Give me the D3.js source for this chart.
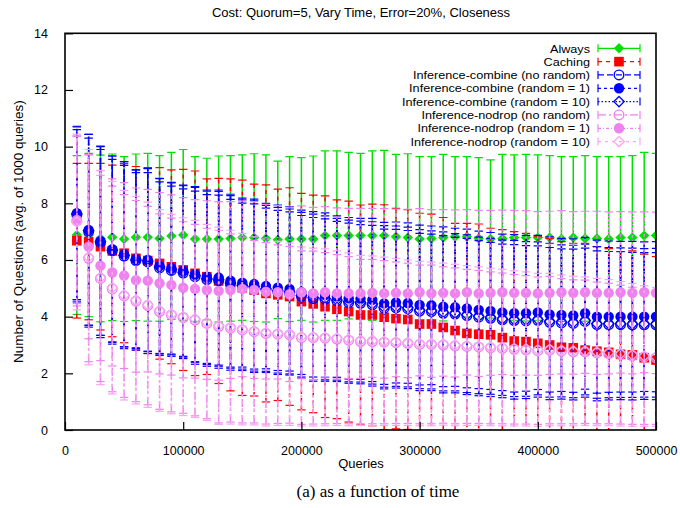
<!DOCTYPE html>
<html><head><meta charset="utf-8">
<script src="https://cdn.jsdelivr.net/npm/d3@7"></script>
<style>body{margin:0;background:#fff}svg{display:block}text{font-family:"Liberation Sans",Arial,sans-serif}</style>
</head><body><svg id="c" width="680" height="508"></svg>
<script>
const queries = [10000,20000,30000,40000,50000,60000,70000,80000,90000,100000,110000,120000,130000,140000,150000,160000,170000,180000,190000,200000,210000,220000,230000,240000,250000,260000,270000,280000,290000,300000,310000,320000,330000,340000,350000,360000,370000,380000,390000,400000,410000,420000,430000,440000,450000,460000,470000,480000,490000,500000];
const xTicks = [0,100000,200000,300000,400000,500000];
const yTicks = [0,2,4,6,8,10,12,14];
const seriesNames = ["Always","Caching","Inference-combine (no random)","Inference-combine (random = 1)","Inference-combine (random = 10)","Inference-nodrop (no random)","Inference-nodrop (random = 1)","Inference-nodrop (random = 10)"];

const alwaysMean = [6.88,6.88,6.76,6.80,6.74,6.80,6.80,6.76,6.85,6.88,6.74,6.74, 6.74,6.76,6.79,6.79,6.76,6.71,6.74,6.74,6.74,6.86,6.86,6.86,6.86, 6.86,6.86,6.82,6.79,6.74,6.76,6.79,6.82,6.82,6.76,6.74,6.76,6.79, 6.79,6.79,6.79,6.74,6.79,6.76,6.76,6.74,6.79,6.79,6.86,6.86];
const alwaysErr = [2.80,2.88,2.94,2.94,2.91,2.94,2.96,2.92,2.95,3.02,2.91,2.85, 2.93,2.92,2.92,2.96,2.95,2.78,2.91,2.87,2.93,2.99,2.99,2.94,2.90, 2.99,3.01,2.91,2.96,2.91,2.89,2.94,2.83,2.83,2.85,2.79,2.97,2.92, 2.94,2.92,2.89,2.91,2.86,2.92,2.89,2.91,2.86,2.89,2.94,2.90];

const cachingMean = [6.68,6.65,6.47,6.32,6.24,6.06,5.98,5.88,5.76,5.65,5.53,5.41, 5.26,5.12,5.02,4.94,4.82,4.77,4.71,4.53,4.45,4.35,4.26,4.18,4.06, 4.06,3.98,3.93,3.90,3.74,3.74,3.62,3.51,3.41,3.38,3.36,3.26,3.14, 3.12,3.06,3.00,2.92,2.90,2.82,2.78,2.74,2.67,2.65,2.55,2.47];
const cachingErr = [2.73,2.76,2.94,3.03,3.16,3.24,3.28,3.38,3.42,3.55,3.61,3.45, 3.62,3.74,3.80,3.74,3.83,3.73,3.84,3.82,3.84,3.91,3.86,3.90,3.88, 3.91,3.97,3.89,3.88,3.91,3.88,3.88,3.78,3.88,3.89,3.76,3.81,3.86, 3.82,3.76,3.76,3.73,3.69,3.77,3.69,3.66,3.63,3.67,3.66,3.65];

const combNoRandMean = [7.60,7.00,6.62,6.33,6.14,5.98,5.93,5.72,5.63,5.54,5.41,5.31, 5.27,5.16,5.08,5.03,4.95,4.88,4.84,4.72,4.64,4.61,4.56,4.50,4.47, 4.42,4.30,4.31,4.28,4.20,4.18,4.12,4.09,4.04,3.98,3.94,3.89,3.86, 3.85,3.87,3.80,3.78,3.76,3.83,3.72,3.72,3.72,3.71,3.71,3.71];
const combNoRandErr = [3.00,3.30,3.28,3.22,3.20,3.10,3.15,3.04,2.98,2.97,3.02,3.00, 3.02,2.98,2.93,2.95,2.88,2.87,2.86,2.85,2.86,2.84,2.80,2.80,2.78, 2.80,2.79,2.77,2.76,2.74,2.73,2.74,2.71,2.72,2.70,2.68,2.67,2.68, 2.66,2.63,2.64,2.61,2.62,2.59,2.60,2.58,2.57,2.56,2.55,2.55];

const combRand1Mean = [7.65,7.06,6.67,6.38,6.20,6.04,6.00,5.79,5.71,5.62,5.50,5.41, 5.38,5.27,5.20,5.15,5.08,5.02,4.98,4.86,4.79,4.76,4.71,4.65,4.63, 4.59,4.47,4.50,4.48,4.41,4.40,4.35,4.33,4.29,4.24,4.20,4.15,4.12, 4.12,4.15,4.08,4.06,4.04,4.12,4.00,4.00,4.00,4.00,4.00,4.00];
const combRand1Err = [3.05,3.37,3.33,3.29,3.27,3.14,3.23,3.09,3.03,3.02,3.09,3.06, 3.09,3.05,2.98,3.00,2.92,2.92,2.90,2.90,2.92,2.90,2.85,2.85,2.84, 2.88,2.86,2.84,2.83,2.82,2.80,2.82,2.79,2.80,2.78,2.77,2.76,2.78, 2.75,2.72,2.74,2.70,2.71,2.68,2.70,2.67,2.66,2.66,2.64,2.65];

const combRand10Mean = [7.62,7.03,6.64,6.35,6.17,6.00,5.96,5.75,5.66,5.57,5.44,5.34, 5.30,5.19,5.11,5.06,4.98,4.91,4.87,4.75,4.67,4.64,4.59,4.53,4.50, 4.45,4.33,4.34,4.31,4.23,4.21,4.15,4.12,4.07,4.01,3.97,3.92,3.89, 3.88,3.90,3.83,3.81,3.79,3.86,3.75,3.75,3.75,3.74,3.74,3.74];
const combRand10Err = [3.10,3.40,3.38,3.32,3.30,3.18,3.26,3.12,3.06,3.05,3.12,3.09, 3.12,3.08,3.01,3.03,2.95,2.95,2.93,2.93,2.95,2.92,2.88,2.88,2.87, 2.90,2.88,2.86,2.85,2.84,2.82,2.84,2.81,2.82,2.80,2.79,2.78,2.80, 2.77,2.74,2.76,2.72,2.73,2.70,2.72,2.69,2.68,2.68,2.66,2.67];

const nodNoRandMean = [7.38,6.06,5.35,4.98,4.73,4.55,4.39,4.18,4.06,3.97,3.88,3.76, 3.65,3.60,3.53,3.47,3.41,3.38,3.36,3.26,3.26,3.24,3.21,3.17,3.12, 3.12,3.10,3.08,3.06,3.02,3.02,3.00,2.97,2.95,2.93,2.90,2.88,2.85, 2.83,2.80,2.82,2.78,2.76,2.76,2.72,2.70,2.66,2.62,2.58,2.55];
const nodNoRandErr = [3.00,3.65,3.64,3.63,3.58,3.55,3.50,3.45,3.42,3.38,3.38,3.36, 3.40,3.32,3.28,3.22,3.20,3.15,3.12,3.06,3.05,3.02,2.98,2.95,2.90, 2.90,2.88,2.85,2.83,2.80,2.80,2.76,2.75,2.72,2.70,2.68,2.66,2.64, 2.62,2.60,2.60,2.56,2.54,2.53,2.50,2.48,2.45,2.42,2.38,2.35];

const nodRand1Mean = [7.41,6.47,5.80,5.56,5.45,5.29,5.27,5.18,5.12,5.02,4.98,4.94, 4.91,4.94,4.98,4.94,4.88,4.86,4.79,4.86,4.82,4.86,4.82,4.82,4.82, 4.84,4.82,4.84,4.82,4.86,4.82,4.84,4.82,4.86,4.82,4.84,4.86,4.84, 4.84,4.82,4.84,4.86,4.84,4.86,4.84,4.84,4.86,4.84,4.86,4.84];
const nodRand1Err = [2.95,3.25,3.35,3.30,3.28,3.25,3.22,3.20,3.18,3.18,3.15,3.15, 3.15,3.12,3.10,3.12,3.08,3.06,3.08,3.05,3.04,3.02,3.02,3.00,3.00, 2.98,2.99,2.96,2.97,2.95,2.96,2.94,2.95,2.92,2.93,2.91,2.90,2.91, 2.90,2.89,2.88,2.88,2.87,2.86,2.88,2.86,2.85,2.86,2.84,2.85];

const nodRand10Mean = [7.34,6.10,5.38,5.02,4.76,4.58,4.42,4.22,4.09,4.00,3.92,3.80, 3.68,3.63,3.56,3.50,3.44,3.41,3.38,3.30,3.28,3.27,3.24,3.20,3.16, 3.15,3.13,3.11,3.08,3.05,3.04,3.03,3.00,2.98,2.96,2.93,2.91,2.88, 2.86,2.83,2.84,2.81,2.79,2.78,2.75,2.73,2.69,2.65,2.61,2.58];
const nodRand10Err = [3.10,3.80,3.78,3.75,3.70,3.66,3.62,3.56,3.52,3.49,3.48,3.46, 3.48,3.42,3.38,3.32,3.30,3.25,3.22,3.16,3.14,3.12,3.08,3.05,3.00, 2.99,2.97,2.95,2.92,2.90,2.89,2.86,2.85,2.82,2.80,2.78,2.76,2.74, 2.72,2.70,2.69,2.66,2.64,2.62,2.60,2.58,2.55,2.52,2.48,2.45];

const means = [alwaysMean,cachingMean,combNoRandMean,combRand1Mean,combRand10Mean,nodNoRandMean,nodRand1Mean,nodRand10Mean];
const errs = [alwaysErr,cachingErr,combNoRandErr,combRand1Err,combRand10Err,nodNoRandErr,nodRand1Err,nodRand10Err];

const styles = [
  {color:"#00e000", dash:null, shape:"diamond", fill:true},
  {color:"#ff0000", dash:"4,4", shape:"square", fill:true},
  {color:"#0000ff", dash:"6,3", shape:"circle", fill:false},
  {color:"#0000ff", dash:"3,3", shape:"circle", fill:true},
  {color:"#0000ff", dash:"1.5,2", shape:"diamond", fill:false},
  {color:"#ee82ee", dash:"8,3,2,3", shape:"circle", fill:false},
  {color:"#ee82ee", dash:"3,2,1,2", shape:"circle", fill:true},
  {color:"#f7a6f0", dash:"3,4", shape:"diamond", fill:false}
];

const FONT = "'Liberation Sans',Arial,sans-serif";
const svg = d3.select("#c");
svg.append("rect").attr("width",680).attr("height",508).attr("fill","#fff");
const L=65, R=656, T=33.3, B=430;
const x = d3.scaleLinear().domain([0,500000]).range([L,R]);
const y = d3.scaleLinear().domain([0,14]).range([B,T]);

svg.append("defs").append("clipPath").attr("id","clip").append("rect")
  .attr("x",L).attr("y",T).attr("width",R-L).attr("height",B-T);

function drawMarker(g, s, cx, cy){
  if(s.shape==="circle"){
    const r = s.fill?5.2:4.8;
    g.append("circle").attr("cx",cx).attr("cy",cy).attr("r",r)
      .attr("fill",s.fill?s.color:"none").attr("stroke",s.color).attr("stroke-width",s.fill?0:1.4);
  } else if(s.shape==="square"){
    g.append("rect").attr("x",cx-4.8).attr("y",cy-4.8).attr("width",9.6).attr("height",9.6).attr("fill",s.color);
  } else {
    const h = 5.2;
    g.append("path").attr("d",`M${cx},${cy-h}L${cx+h},${cy}L${cx},${cy+h}L${cx-h},${cy}Z`)
      .attr("fill",s.fill?s.color:"none").attr("stroke",s.color).attr("stroke-width",s.fill?0:1.3);
  }
}

const plot = svg.append("g").attr("clip-path","url(#clip)");
means.forEach((m,si)=>{
  const s = styles[si], e = errs[si];
  const g = plot.append("g");
  queries.forEach((q,i)=>{
    const cx = x(q), lo = y(m[i]-e[i]), hi = y(m[i]+e[i]);
    g.append("line").attr("x1",cx).attr("x2",cx).attr("y1",lo).attr("y2",hi)
      .attr("stroke",s.color).attr("stroke-width",1.5).attr("stroke-dasharray",s.dash);
    [lo,hi].forEach(yy=>g.append("line").attr("x1",cx-4.2).attr("x2",cx+4.2).attr("y1",yy).attr("y2",yy)
      .attr("stroke",s.color).attr("stroke-width",1.2));
  });
  queries.forEach((q,i)=>drawMarker(g,s,x(q),y(m[i])));
});

// axes
const ya = svg.append("g").attr("transform",`translate(${L},0)`)
  .call(d3.axisLeft(y).tickValues(yTicks).tickSize(-8).tickPadding(17).tickFormat(d3.format("d")));
const xa = svg.append("g").attr("transform",`translate(0,${B})`)
  .call(d3.axisBottom(x).tickValues(xTicks).tickSize(-8).tickPadding(16).tickFormat(d3.format("d")));
[ya,xa].forEach(a=>{a.select(".domain").remove();a.selectAll("line").attr("stroke","#000").attr("stroke-width",1.2);
  a.selectAll("text").attr("font-size",12.5).attr("fill","#000").attr("font-family",FONT);});
svg.append("rect").attr("x",L).attr("y",T).attr("width",R-L).attr("height",B-T)
  .attr("fill","none").attr("stroke","#000").attr("stroke-width",1.6);

// texts
svg.append("text").attr("x",361).attr("y",17).attr("text-anchor","middle").attr("font-size",13)
  .text("Cost: Quorum=5, Vary Time, Error=20%, Closeness");
svg.append("text").attr("x",361).attr("y",468).attr("text-anchor","middle").attr("font-size",13).text("Queries");
svg.append("text").attr("transform",`translate(23,${(T+B)/2}) rotate(-90)`).attr("text-anchor","middle")
  .attr("font-size",13.5).text("Number of Questions (avg. of 1000 queries)");
svg.append("text").attr("x",378).attr("y",497).attr("text-anchor","middle").attr("font-size",17)
  .style("font-family","'Liberation Serif',serif").text("(a) as a function of time");

// legend
const lg = svg.append("g");
seriesNames.forEach((name,i)=>{
  const s = styles[i], cy = 48.3 + i*13.33;
  lg.append("rect").attr("x",593).attr("y",cy-6).attr("width",51).attr("height",12).attr("fill","#fff");
  lg.append("text").attr("transform",`translate(590,${cy+4.2}) scale(1.1,1)`).attr("text-anchor","end")
    .attr("font-size",11.5).text(name);
  lg.append("line").attr("x1",598).attr("x2",640).attr("y1",cy).attr("y2",cy)
    .attr("stroke",s.color).attr("stroke-width",1.2).attr("stroke-dasharray",s.dash);
  [598,640].forEach(xx=>lg.append("line").attr("x1",xx).attr("x2",xx).attr("y1",cy-4).attr("y2",cy+4).attr("stroke",s.color).attr("stroke-width",1.2));
  drawMarker(lg,s,619,cy);
});
</script></body></html>
